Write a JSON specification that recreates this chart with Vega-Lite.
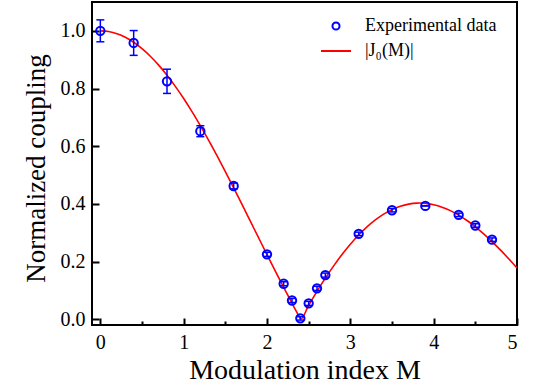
{
  "$schema": "https://vega.github.io/schema/vega-lite/v6.json",
  "width": 425,
  "height": 323,
  "autosize": {"type": "none"},
  "padding": {"left": 92, "top": 2, "right": 18, "bottom": 66},
  "background": "white",
  "config": {
    "view": {"stroke": "black", "strokeWidth": 2},
    "font": "Liberation Serif",
    "axis": {
      "grid": false,
      "domain": false,
      "labelFont": "Liberation Serif",
      "titleFont": "Liberation Serif",
      "labelColor": "black",
      "titleColor": "black",
      "titleFontWeight": "normal",
      "labelFontSize": 20,
      "ticks": true,
      "tickColor": "black",
      "tickWidth": 2
    }
  },
  "datasets": {
    "pts": [
      {"M": 0.0, "c": 1.0, "lo": 0.962, "hi": 1.038, "series": "Experimental data"},
      {"M": 0.4, "c": 0.958, "lo": 0.915, "hi": 1.001, "series": "Experimental data"},
      {"M": 0.8, "c": 0.825, "lo": 0.783, "hi": 0.867, "series": "Experimental data"},
      {"M": 1.2, "c": 0.652, "lo": 0.633, "hi": 0.671, "series": "Experimental data"},
      {"M": 1.6, "c": 0.462, "lo": 0.452, "hi": 0.472, "series": "Experimental data"},
      {"M": 2.0, "c": 0.225, "lo": 0.218, "hi": 0.232, "series": "Experimental data"},
      {"M": 2.2, "c": 0.123, "lo": 0.116, "hi": 0.130, "series": "Experimental data"},
      {"M": 2.3, "c": 0.065, "lo": 0.058, "hi": 0.072, "series": "Experimental data"},
      {"M": 2.4, "c": 0.003, "lo": -0.003, "hi": 0.009, "series": "Experimental data"},
      {"M": 2.5, "c": 0.055, "lo": 0.048, "hi": 0.062, "series": "Experimental data"},
      {"M": 2.6, "c": 0.107, "lo": 0.100, "hi": 0.114, "series": "Experimental data"},
      {"M": 2.7, "c": 0.153, "lo": 0.146, "hi": 0.160, "series": "Experimental data"},
      {"M": 3.1, "c": 0.296, "lo": 0.290, "hi": 0.302, "series": "Experimental data"},
      {"M": 3.5, "c": 0.378, "lo": 0.372, "hi": 0.384, "series": "Experimental data"},
      {"M": 3.9, "c": 0.393, "lo": 0.393, "hi": 0.393, "series": "Experimental data"},
      {"M": 4.3, "c": 0.362, "lo": 0.356, "hi": 0.368, "series": "Experimental data"},
      {"M": 4.5, "c": 0.325, "lo": 0.319, "hi": 0.331, "series": "Experimental data"},
      {"M": 4.7, "c": 0.276, "lo": 0.270, "hi": 0.282, "series": "Experimental data"}
    ],
    "curve": [
      {"M": 0.0, "c": 1.0}, {"M": 0.1, "c": 0.9975}, {"M": 0.2, "c": 0.99}, {"M": 0.3, "c": 0.9776},
      {"M": 0.4, "c": 0.9604}, {"M": 0.5, "c": 0.9385}, {"M": 0.6, "c": 0.912}, {"M": 0.7, "c": 0.8812},
      {"M": 0.8, "c": 0.8463}, {"M": 0.9, "c": 0.8075}, {"M": 1.0, "c": 0.7652}, {"M": 1.1, "c": 0.7196},
      {"M": 1.2, "c": 0.6711}, {"M": 1.3, "c": 0.6201}, {"M": 1.4, "c": 0.5669}, {"M": 1.5, "c": 0.5118},
      {"M": 1.6, "c": 0.4554}, {"M": 1.7, "c": 0.398}, {"M": 1.8, "c": 0.34}, {"M": 1.9, "c": 0.2818},
      {"M": 2.0, "c": 0.2239}, {"M": 2.1, "c": 0.1666}, {"M": 2.2, "c": 0.1104}, {"M": 2.3, "c": 0.0555},
      {"M": 2.4, "c": 0.0025}, {"M": 2.405, "c": 0.0}, {"M": 2.5, "c": 0.0484}, {"M": 2.6, "c": 0.0968},
      {"M": 2.7, "c": 0.1424}, {"M": 2.8, "c": 0.185}, {"M": 2.9, "c": 0.2243}, {"M": 3.0, "c": 0.2601},
      {"M": 3.1, "c": 0.2921}, {"M": 3.2, "c": 0.3202}, {"M": 3.3, "c": 0.3443}, {"M": 3.4, "c": 0.3643},
      {"M": 3.5, "c": 0.3801}, {"M": 3.6, "c": 0.3918}, {"M": 3.7, "c": 0.3992}, {"M": 3.8, "c": 0.4026},
      {"M": 3.832, "c": 0.4028}, {"M": 3.9, "c": 0.4018}, {"M": 4.0, "c": 0.3971}, {"M": 4.1, "c": 0.3887},
      {"M": 4.2, "c": 0.3766}, {"M": 4.3, "c": 0.361}, {"M": 4.4, "c": 0.3423}, {"M": 4.5, "c": 0.3205},
      {"M": 4.6, "c": 0.2961}, {"M": 4.7, "c": 0.2693}, {"M": 4.8, "c": 0.2404}, {"M": 4.9, "c": 0.2097},
      {"M": 5.0, "c": 0.1776}
    ]
  },
  "layer": [
    {
      "data": {"name": "curve"},
      "transform": [{"calculate": "'|J₀(M)|'", "as": "series"}],
      "mark": {"type": "line", "strokeWidth": 1.6, "interpolate": "monotone", "clip": true},
      "encoding": {
        "x": {"field": "M", "type": "quantitative", "scale": {"domain": [-0.1, 5], "nice": false, "zero": false},
          "axis": {"values": [0, 0.5, 1, 1.5, 2, 2.5, 3, 3.5, 4, 4.5, 5],
            "labelExpr": "abs(datum.value - round(datum.value)) > 0.01 ? '' : format(datum.value, 'd')",
            "tickSize": {"condition": {"test": "abs(datum.value - round(datum.value)) > 0.01", "value": -4}, "value": -7},
            "labelPadding": 14,
            "labelFont": "Liberation Serif", "labelFontSize": 20,
            "title": "Modulation index M", "titleFont": "Liberation Serif", "titleFontSize": 28, "titlePadding": 4}},
        "y": {"field": "c", "type": "quantitative", "scale": {"domain": [-0.02, 1.1], "nice": false, "zero": false},
          "axis": {"values": [0, 0.1, 0.2, 0.3, 0.4, 0.5, 0.6, 0.7, 0.8, 0.9, 1.0],
            "labelExpr": "abs(datum.value * 5 - round(datum.value * 5)) > 0.01 ? '' : format(datum.value, '.1f')",
            "tickSize": {"condition": {"test": "abs(datum.value * 5 - round(datum.value * 5)) > 0.01", "value": -4}, "value": -7},
            "labelPadding": 14,
            "labelFont": "Liberation Serif", "labelFontSize": 20,
            "title": "Normalized coupling", "titleFont": "Liberation Serif", "titleFontSize": 27, "titlePadding": 10, "titleY": 166}},
        "color": {"field": "series", "type": "nominal",
          "scale": {"domain": ["Experimental data", "|J₀(M)|"], "range": ["#0000ff", "#ff0000"]},
          "legend": {
            "orient": "none", "legendX": 228, "legendY": 8, "title": null,
            "labelFont": "Liberation Serif", "labelFontSize": 18, "labelColor": "black",
            "symbolSize": 576, "rowPadding": 0, "labelOffset": 13,
            "encode": {
              "symbols": {"update": {
                "shape": {"signal": "datum.value === 'Experimental data' ? 'circle' : 'stroke'"},
                "size": {"signal": "datum.value === 'Experimental data' ? 50 : 900"},
                "strokeWidth": {"value": 2},
                "fill": {"value": "transparent"}
              }}
            }
          }}
      }
    },
    {
      "data": {"name": "pts"},
      "mark": {"type": "rule", "color": "#0000ff", "strokeWidth": 1.5},
      "encoding": {
        "x": {"field": "M", "type": "quantitative"},
        "y": {"field": "lo", "type": "quantitative"},
        "y2": {"field": "hi"}
      }
    },
    {
      "data": {"name": "pts"},
      "mark": {"type": "point", "shape": "stroke", "color": "#0000ff", "strokeWidth": 1.5, "size": 64, "opacity": 1},
      "encoding": {
        "x": {"field": "M", "type": "quantitative"},
        "y": {"field": "lo", "type": "quantitative"}
      }
    },
    {
      "data": {"name": "pts"},
      "mark": {"type": "point", "shape": "stroke", "color": "#0000ff", "strokeWidth": 1.5, "size": 64, "opacity": 1},
      "encoding": {
        "x": {"field": "M", "type": "quantitative"},
        "y": {"field": "hi", "type": "quantitative"}
      }
    },
    {
      "data": {"name": "pts"},
      "mark": {"type": "point", "filled": false, "strokeWidth": 2, "size": 70, "opacity": 1},
      "encoding": {
        "x": {"field": "M", "type": "quantitative"},
        "y": {"field": "c", "type": "quantitative"},
        "color": {"field": "series", "type": "nominal"}
      }
    }
  ]
}
